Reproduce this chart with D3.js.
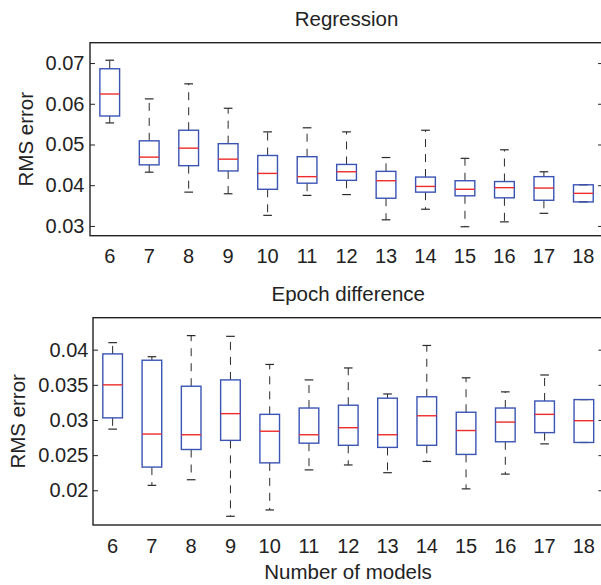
<!DOCTYPE html>
<html>
<head>
<meta charset="utf-8">
<script src="https://cdn.jsdelivr.net/npm/d3@7/dist/d3.min.js"></script>
<style>
  html, body { margin: 0; padding: 0; background: #fff; }
  svg { display: block; }
  text { font-family: "Liberation Sans", Arial, Helvetica, sans-serif; fill: #222; }
</style>
</head>
<body>
<svg id="chart" width="601" height="585"></svg>
<script>
// ---- Data ----
const categories = [6, 7, 8, 9, 10, 11, 12, 13, 14, 15, 16, 17, 18];

// Regression panel
const regMin = [0.0553, 0.0432, 0.0383, 0.0379, 0.0326, 0.0375, 0.0377, 0.0315, 0.0341, 0.0298, 0.0310, 0.0331, 0.0359];
const regQ1  = [0.0570, 0.0450, 0.0448, 0.0435, 0.0390, 0.0405, 0.0412, 0.0368, 0.0383, 0.0374, 0.0369, 0.0363, 0.0359];
const regMed = [0.0624, 0.0469, 0.0491, 0.0464, 0.0429, 0.0421, 0.0433, 0.0411, 0.0397, 0.0390, 0.0394, 0.0393, 0.0380];
const regQ3  = [0.0686, 0.0509, 0.0535, 0.0502, 0.0473, 0.0470, 0.0451, 0.0434, 0.0420, 0.0411, 0.0409, 0.0421, 0.0401];
const regMax = [0.0707, 0.0612, 0.0649, 0.0589, 0.0531, 0.0541, 0.0531, 0.0468, 0.0535, 0.0466, 0.0487, 0.0433, 0.0401];

// Epoch difference panel
const epMin = [0.0287, 0.0207, 0.0215, 0.0163, 0.0172, 0.0229, 0.0236, 0.0225, 0.0241, 0.0202, 0.0223, 0.0266, 0.0268];
const epQ1  = [0.0303, 0.0233, 0.0258, 0.0271, 0.0239, 0.0267, 0.0264, 0.0261, 0.0264, 0.0251, 0.0269, 0.0282, 0.0268];
const epMed = [0.0350, 0.0280, 0.0279, 0.0309, 0.0284, 0.0279, 0.0289, 0.0279, 0.0306, 0.0285, 0.0297, 0.0308, 0.0299];
const epQ3  = [0.0394, 0.0385, 0.0348, 0.0357, 0.0308, 0.0317, 0.0321, 0.0331, 0.0333, 0.0311, 0.0317, 0.0327, 0.0329];
const epMax = [0.0410, 0.0390, 0.0420, 0.0419, 0.0379, 0.0357, 0.0374, 0.0337, 0.0406, 0.0360, 0.0340, 0.0364, 0.0329];

const regTicks = [0.03, 0.04, 0.05, 0.06, 0.07];
const regTickLabels = ["0.03", "0.04", "0.05", "0.06", "0.07"];
const epTicks = [0.02, 0.025, 0.03, 0.035, 0.04];
const epTickLabels = ["0.02", "0.025", "0.03", "0.035", "0.04"];

const titles = ["Regression", "Epoch difference"];
const yLabel = "RMS error";
const xLabel = "Number of models";

// ---- Drawing ----
const svg = d3.select("#chart");
const BOX_COLOR = "#3a54b4";
const MED_COLOR = "#ee2b2b";
const WHISK_COLOR = "#2a2a2a";
const FRAME_COLOR = "#222";

function panel(cfg) {
  const x = d3.scaleLinear().domain([5.5, 18.5]).range([cfg.left, cfg.right]);
  const y = d3.scaleLinear().domain(cfg.yDomain).range([cfg.bottom, cfg.top]);
  const g = svg.append("g");

  const rows = categories.map((c, i) => ({
    c, min: cfg.min[i], q1: cfg.q1[i], med: cfg.med[i], q3: cfg.q3[i], max: cfg.max[i]
  }));
  const bw = 0.5, cw = 0.22;

  // left axis ticks (inward) with labels
  const yAxis = d3.axisLeft(y).tickValues(cfg.ticks)
    .tickFormat((d, i) => cfg.tickLabels[i])
    .tickSizeInner(-5).tickSizeOuter(0).tickPadding(cfg.tickPad);
  const ya = g.append("g").attr("transform", `translate(${cfg.left},0)`).call(yAxis);
  ya.select(".domain").remove();
  ya.selectAll("line").attr("stroke", FRAME_COLOR).attr("stroke-width", 1);
  ya.selectAll("text").attr("font-size", 20).attr("fill", "#222")
    .style("font-family", '"Liberation Sans", Arial, sans-serif');

  // right axis ticks (inward, no labels)
  const yAxisR = d3.axisRight(y).tickValues(cfg.ticks).tickFormat("")
    .tickSizeInner(-5).tickSizeOuter(0);
  const yr = g.append("g").attr("transform", `translate(${cfg.right},0)`).call(yAxisR);
  yr.select(".domain").remove();
  yr.selectAll("line").attr("stroke", FRAME_COLOR).attr("stroke-width", 1);

  // whiskers (dashed)
  g.selectAll(".wup").data(rows).enter().append("line")
    .attr("x1", d => x(d.c)).attr("x2", d => x(d.c))
    .attr("y1", d => y(d.q3)).attr("y2", d => y(d.max))
    .attr("stroke", WHISK_COLOR).attr("stroke-width", 1).attr("stroke-dasharray", "8,7");
  g.selectAll(".wlo").data(rows).enter().append("line")
    .attr("x1", d => x(d.c)).attr("x2", d => x(d.c))
    .attr("y1", d => y(d.q1)).attr("y2", d => y(d.min))
    .attr("stroke", WHISK_COLOR).attr("stroke-width", 1).attr("stroke-dasharray", "8,7");
  // caps
  ["max", "min"].forEach(k => {
    g.selectAll(".cap" + k).data(rows).enter().append("line")
      .attr("x1", d => x(d.c - cw / 2)).attr("x2", d => x(d.c + cw / 2))
      .attr("y1", d => y(d[k])).attr("y2", d => y(d[k]))
      .attr("stroke", WHISK_COLOR).attr("stroke-width", 1.2);
  });
  // boxes
  g.selectAll(".box").data(rows).enter().append("rect")
    .attr("x", d => x(d.c - bw / 2)).attr("width", d => x(d.c + bw / 2) - x(d.c - bw / 2))
    .attr("y", d => y(d.q3)).attr("height", d => y(d.q1) - y(d.q3))
    .attr("fill", "none").attr("stroke", BOX_COLOR).attr("stroke-width", 1.4);
  // medians
  g.selectAll(".med").data(rows).enter().append("line")
    .attr("x1", d => x(d.c - bw / 2)).attr("x2", d => x(d.c + bw / 2))
    .attr("y1", d => y(d.med)).attr("y2", d => y(d.med))
    .attr("stroke", MED_COLOR).attr("stroke-width", 1.4);

  // frame
  g.append("rect").attr("x", cfg.left).attr("y", cfg.top)
    .attr("width", cfg.right - cfg.left).attr("height", cfg.bottom - cfg.top)
    .attr("fill", "none").attr("stroke", FRAME_COLOR).attr("stroke-width", 1.4);

  // x category labels
  g.selectAll(".xl").data(categories).enter().append("text")
    .attr("x", d => x(d)).attr("y", cfg.xLabelY)
    .attr("text-anchor", "middle").attr("font-size", 20).text(d => d);

  // title
  g.append("text").attr("x", (cfg.left + cfg.right) / 2).attr("y", cfg.titleY)
    .attr("text-anchor", "middle").attr("font-size", 20.5).text(cfg.title);

  // y label
  g.append("text")
    .attr("transform", `translate(${cfg.yLabelX},${(cfg.top + cfg.bottom) / 2}) rotate(-90)`)
    .attr("text-anchor", "middle").attr("font-size", 20.5).text(yLabel);
  return x;
}

panel({
  left: 90, right: 603.1, top: 42.7, bottom: 235.7,
  yDomain: [0.0276, 0.075],
  ticks: regTicks, tickLabels: regTickLabels, tickPad: 5.5,
  min: regMin, q1: regQ1, med: regMed, q3: regQ3, max: regMax,
  xLabelY: 263, titleY: 26, title: titles[0], yLabelX: 33.3
});

panel({
  left: 93, right: 603.5, top: 317.7, bottom: 525,
  yDomain: [0.01506, 0.04455],
  ticks: epTicks, tickLabels: epTickLabels, tickPad: 4.6,
  min: epMin, q1: epQ1, med: epMed, q3: epQ3, max: epMax,
  xLabelY: 553, titleY: 301, title: titles[1], yLabelX: 25
});

svg.append("text").attr("x", 348).attr("y", 578.5)
  .attr("text-anchor", "middle").attr("font-size", 20.5).text(xLabel);
</script>
</body>
</html>
